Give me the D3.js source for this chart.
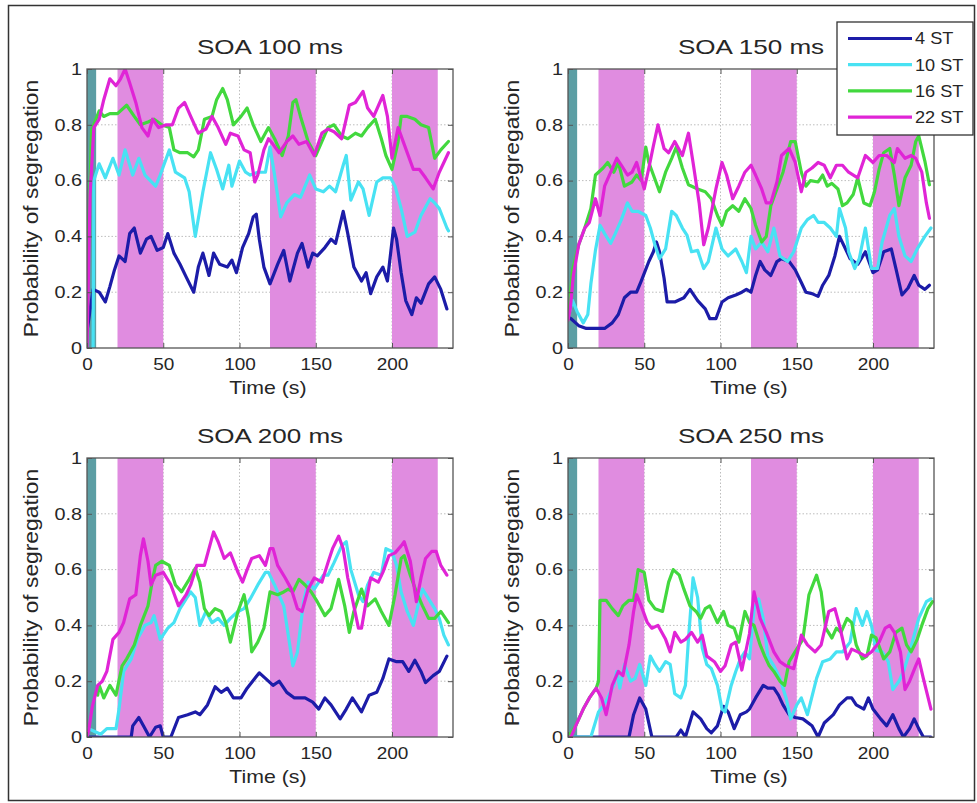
<!DOCTYPE html>
<html>
<head>
<meta charset="utf-8">
<script src="https://cdn.jsdelivr.net/npm/d3@7"></script>
<style>
  body { margin: 0; background: #fff; }
  text { font-family: "Liberation Sans", Arial, sans-serif; fill: #262626; }
</style>
</head>
<body>
<div id="chart"></div>
<script>

// values: [time (s), probability]

const panelTitles = ["SOA 100 ms", "SOA 150 ms", "SOA 200 ms", "SOA 250 ms"]
const seriesNames = ["4 ST", "10 ST", "16 ST", "22 ST"]
const xTicks = [0, 50, 100, 150, 200]
const yTicks = [0, 0.2, 0.4, 0.6, 0.8, 1]
const cueBand = [0, 6]
const stimBands = [[20, 50], [120, 150], [200, 230]]

const soa100_4 = [[0,.06],[4,.21],[8,.20],[12,.165],[15,.22],[18,.28],[21,.33],[25,.31],[28,.41],[31,.43],[35,.34],[39,.39],[42,.40],[46,.35],[50,.36],[53,.41],[57,.34],[61,.30],[65,.255],[70,.20],[73,.29],[76,.34],[80,.26],[83,.34],[87,.30],[92,.29],[95,.315],[98,.27],[102,.36],[106,.41],[109,.47],[111,.48],[113,.39],[116,.29],[120,.23],[125,.30],[129,.35],[133,.24],[138,.34],[141,.375],[145,.29],[148,.34],[151,.33],[156,.36],[160,.39],[163,.375],[168,.49],[171,.41],[175,.29],[180,.24],[183,.27],[186,.195],[190,.255],[194,.29],[197,.24],[201,.43],[203,.39],[206,.27],[209,.17],[213,.12],[216,.18],[219,.16],[224,.23],[228,.255],[232,.21],[236,.14]]
const soa100_10 = [[4,0],[4.5,.60],[8,.66],[12,.61],[17,.68],[21,.62],[25,.71],[30,.62],[34,.68],[38,.62],[45,.58],[48,.62],[54,.71],[58,.63],[64,.61],[67,.56],[71,.40],[76,.56],[81,.70],[85,.64],[89,.57],[93,.655],[95,.58],[100,.67],[104,.63],[107,.62],[112,.63],[117,.63],[120,.72],[123,.62],[127,.47],[131,.52],[136,.55],[140,.54],[146,.62],[150,.57],[155,.56],[159,.58],[163,.56],[168,.655],[170,.69],[173,.53],[178,.595],[181,.57],[185,.475],[190,.595],[194,.61],[199,.61],[202,.58],[206,.50],[210,.40],[215,.415],[219,.475],[225,.535],[228,.52],[231,.50],[236,.43],[237,.42]]
const soa100_16 = [[0.5,.3],[3,.78],[8,.85],[11,.83],[15,.84],[20,.84],[26,.87],[31,.83],[35,.80],[40,.81],[44,.82],[49,.80],[54,.79],[57,.71],[61,.70],[66,.70],[70,.685],[73,.71],[77,.82],[82,.83],[85,.89],[89,.93],[92,.89],[96,.80],[101,.83],[105,.86],[109,.80],[114,.74],[119,.79],[123,.75],[128,.69],[132,.76],[135,.88],[137,.89],[140,.83],[145,.74],[150,.69],[154,.74],[158,.79],[162,.80],[167,.76],[171,.75],[176,.77],[180,.76],[184,.79],[189,.82],[193,.75],[196,.69],[200,.64],[204,.74],[206,.83],[210,.83],[215,.82],[219,.80],[224,.79],[228,.68],[232,.71],[237,.74]]
const soa100_22 = [[0,0],[2,.55],[4.5,.79],[8,.82],[11,.89],[15,.965],[19,.94],[22,.965],[25,1.0],[28,.95],[32,.88],[36,.79],[40,.76],[43,.82],[47,.79],[52,.80],[56,.80],[60,.86],[64,.88],[68,.83],[73,.77],[78,.785],[82,.83],[86,.79],[91,.73],[94,.77],[99,.76],[103,.71],[107,.70],[110,.595],[112,.62],[116,.71],[119,.75],[122,.73],[126,.70],[131,.74],[135,.76],[139,.73],[144,.74],[149,.69],[154,.77],[158,.785],[162,.775],[167,.75],[172,.87],[176,.88],[181,.92],[184,.86],[188,.83],[194,.905],[197,.83],[200,.68],[204,.79],[208,.73],[214,.64],[218,.64],[222,.61],[227,.57],[231,.63],[237,.70]]

const soa150_4 = [[0,.11],[2,.105],[7,.08],[12,.07],[18,.07],[24,.07],[29,.09],[33,.12],[37,.18],[41,.20],[45,.20],[48,.24],[53,.31],[56,.345],[58,.38],[60,.345],[63,.25],[65,.165],[70,.165],[76,.18],[80,.21],[85,.17],[90,.14],[93,.105],[97,.105],[101,.165],[105,.18],[110,.19],[114,.20],[117,.21],[120,.20],[123,.26],[126,.31],[129,.28],[133,.26],[137,.31],[140,.32],[145,.31],[149,.28],[153,.235],[156,.20],[160,.195],[164,.185],[167,.225],[171,.26],[175,.33],[178,.40],[182,.355],[185,.32],[190,.30],[195,.345],[200,.27],[203,.28],[207,.345],[212,.355],[215,.285],[219,.19],[223,.215],[227,.26],[230,.225],[234,.21],[237,.225]]
const soa150_10 = [[0,.11],[3,.17],[6,.13],[10,.09],[13,.12],[15,.23],[18,.35],[21,.44],[24,.41],[28,.375],[31,.41],[35,.46],[39,.52],[42,.49],[46,.49],[51,.475],[54,.43],[57,.37],[60,.32],[64,.355],[68,.49],[71,.475],[75,.43],[78,.405],[81,.345],[85,.35],[89,.285],[92,.31],[97,.43],[101,.355],[105,.33],[110,.355],[114,.31],[117,.27],[120,.40],[123,.355],[127,.38],[131,.345],[135,.43],[139,.33],[144,.31],[148,.345],[153,.43],[157,.46],[161,.475],[164,.45],[168,.45],[172,.43],[176,.40],[178,.50],[182,.43],[184,.345],[188,.285],[191,.32],[195,.43],[199,.285],[203,.285],[206,.38],[211,.475],[214,.50],[217,.40],[221,.33],[225,.31],[229,.355],[234,.40],[238,.43]]
const soa150_16 = [[0,.1],[3,.28],[7,.37],[11,.43],[15,.5],[18,.62],[20,.63],[23,.645],[26,.665],[30,.63],[33,.665],[37,.58],[42,.595],[45,.62],[48,.6],[51,.72],[53,.665],[56,.62],[60,.56],[64,.63],[68,.68],[71,.72],[75,.645],[79,.585],[85,.57],[90,.56],[94,.535],[98,.475],[101,.44],[104,.49],[108,.51],[112,.49],[116,.535],[120,.50],[123,.44],[127,.38],[130,.40],[133,.51],[137,.57],[141,.63],[146,.74],[149,.74],[153,.63],[156,.58],[159,.60],[164,.595],[167,.62],[170,.58],[173,.59],[177,.57],[180,.51],[183,.52],[187,.55],[190,.61],[194,.52],[198,.51],[201,.56],[204,.64],[207,.70],[211,.715],[214,.62],[217,.51],[221,.61],[225,.655],[228,.74],[230,.76],[234,.67],[237,.585]]
const soa150_22 = [[0,.1],[1.5,.14],[3.5,.26],[7,.37],[11,.43],[14,.45],[18,.535],[21,.475],[24,.58],[28,.63],[32,.68],[35,.655],[39,.62],[42,.63],[45,.665],[50,.57],[53,.645],[56,.725],[59,.80],[63,.715],[66,.70],[70,.74],[75,.69],[79,.77],[82,.665],[86,.52],[89,.37],[92,.43],[97,.57],[101,.665],[104,.62],[108,.535],[112,.58],[116,.63],[120,.655],[123,.62],[127,.57],[130,.52],[133,.52],[137,.595],[140,.69],[145,.715],[149,.665],[153,.56],[156,.63],[160,.645],[164,.665],[168,.655],[172,.61],[176,.655],[180,.655],[184,.63],[190,.61],[195,.69],[200,.665],[204,.69],[209,.69],[214,.665],[216,.715],[221,.68],[225,.69],[228,.68],[232,.63],[235,.52],[237,.465]]

const soa200_4 = [[0,0],[29,0],[30,.04],[34,.07],[37,.04],[41,0],[45,.035],[48,.04],[50,0],[55,0],[60,.07],[66,.08],[71,.09],[74,.08],[79,.115],[84,.18],[88,.16],[92,.175],[96,.14],[101,.14],[105,.175],[110,.21],[113,.23],[117,.21],[122,.185],[126,.20],[131,.16],[136,.14],[143,.14],[148,.125],[152,.10],[156,.14],[160,.115],[166,.065],[170,.10],[174,.14],[180,.09],[185,.15],[190,.16],[194,.21],[198,.28],[203,.27],[207,.27],[211,.235],[215,.275],[219,.235],[222,.195],[227,.22],[231,.235],[236,.29]]
const soa200_10 = [[0,.02],[1,.03],[5,.02],[9,.01],[13,.03],[19,.03],[21,.10],[24,.235],[29,.28],[33,.35],[38,.40],[42,.41],[44,.435],[48,.35],[53,.39],[57,.41],[61,.46],[65,.495],[68,.52],[71,.50],[74,.40],[78,.45],[82,.41],[86,.425],[90,.40],[94,.425],[99,.45],[103,.46],[107,.495],[112,.545],[117,.59],[119,.59],[123,.545],[129,.47],[132,.365],[135,.255],[138,.305],[142,.485],[145,.555],[149,.53],[155,.58],[158,.58],[162,.625],[167,.685],[170,.70],[173,.60],[178,.51],[181,.485],[184,.545],[188,.59],[193,.58],[196,.675],[200,.665],[203,.615],[206,.52],[210,.45],[214,.40],[217,.47],[220,.53],[224,.495],[228,.46],[231,.425],[234,.365],[237,.33]]
const soa200_16 = [[7,.15],[8,.185],[11,.14],[15,.185],[19,.15],[23,.255],[26,.28],[31,.33],[35,.40],[40,.47],[43,.565],[45,.615],[49,.63],[54,.615],[58,.545],[62,.52],[67,.565],[71,.605],[74,.555],[77,.46],[80,.435],[84,.46],[88,.45],[91,.41],[94,.34],[99,.45],[103,.51],[106,.425],[108,.305],[112,.34],[116,.39],[120,.52],[125,.51],[129,.52],[132,.53],[135,.52],[139,.565],[143,.545],[147,.52],[151,.485],[156,.435],[160,.46],[165,.565],[169,.47],[172,.375],[175,.45],[180,.53],[184,.47],[189,.495],[193,.45],[198,.40],[202,.51],[206,.64],[208,.65],[212,.58],[216,.52],[220,.47],[224,.425],[228,.425],[232,.45],[237,.41]]
const soa200_22 = [[0,0],[1,.02],[3.5,.11],[7,.185],[10,.20],[13,.235],[17,.35],[21,.375],[24,.41],[28,.495],[32,.51],[35,.65],[37,.71],[40,.63],[42,.545],[45,.58],[50,.59],[55,.545],[60,.47],[65,.51],[68,.545],[72,.615],[77,.615],[80,.675],[83,.735],[86,.70],[90,.64],[94,.66],[99,.59],[102,.555],[105,.60],[108,.64],[113,.65],[117,.615],[120,.675],[122,.675],[125,.615],[130,.57],[134,.53],[138,.46],[141,.45],[145,.53],[149,.57],[154,.555],[158,.625],[161,.675],[165,.72],[168,.675],[171,.57],[174,.495],[178,.39],[180,.39],[183,.485],[186,.57],[191,.555],[194,.59],[198,.65],[202,.66],[206,.685],[208,.70],[212,.63],[216,.485],[219,.57],[222,.64],[226,.665],[229,.665],[232,.615],[236,.58]]

const soa250_4 = [[0,0],[40,0],[43,.08],[47,.14],[51,.10],[55,0],[71,0],[74,.025],[77,0],[82,.09],[87,.065],[91,.03],[94,.015],[98,.04],[102,.11],[105,.09],[109,.03],[113,.08],[117,.09],[119,.10],[123,.14],[128,.185],[131,.175],[135,.175],[138,.15],[141,.115],[145,.08],[149,.07],[154,.065],[160,.04],[164,0],[168,.05],[174,.08],[178,.115],[183,.14],[186,.14],[189,.115],[194,.10],[197,.14],[200,.10],[205,.065],[209,.04],[213,.08],[217,.03],[220,0],[224,.03],[227,.065],[230,.03],[233,0],[238,0]]
const soa250_10 = [[0,0],[15,0],[20,.09],[23,.11],[26,.14],[30,.185],[32,.235],[34,.175],[37,.26],[41,.20],[44,.21],[47,.26],[51,.185],[54,.29],[57,.26],[60,.235],[64,.27],[67,.26],[70,.155],[74,.14],[77,.185],[79,.35],[82,.57],[85,.50],[88,.32],[91,.26],[94,.245],[98,.185],[101,.10],[103,.09],[107,.185],[110,.235],[113,.28],[116,.305],[119,.28],[122,.46],[125,.495],[128,.425],[131,.29],[135,.255],[139,.21],[143,.14],[146,.065],[150,.115],[153,.14],[157,.08],[163,.21],[167,.27],[172,.28],[176,.305],[180,.305],[185,.34],[189,.46],[193,.40],[196,.45],[199,.40],[202,.31],[206,.305],[210,.27],[213,.17],[217,.20],[220,.235],[224,.305],[227,.365],[230,.425],[235,.485],[238,.495]]
const soa250_16 = [[0,0],[5,.04],[10,.10],[14,.14],[18.5,.175],[20,.2],[21,.49],[25,.49],[29,.46],[33,.435],[36,.47],[40,.49],[43,.49],[46,.60],[50,.59],[53,.49],[57,.46],[62,.45],[66,.555],[69,.60],[73,.58],[76,.53],[80,.47],[84,.45],[87,.425],[90,.46],[93,.47],[98,.41],[102,.45],[105,.40],[109,.39],[112,.34],[116,.45],[119,.41],[122,.40],[126,.33],[129,.29],[132,.255],[135,.235],[139,.20],[142,.185],[145,.27],[150,.315],[154,.35],[158,.51],[163,.58],[166,.52],[169,.39],[173,.355],[176,.39],[179,.375],[183,.425],[186,.41],[189,.33],[193,.28],[196,.29],[199,.365],[202,.355],[207,.28],[211,.305],[215,.375],[219,.39],[222,.33],[225,.305],[229,.35],[232,.40],[236,.46],[239,.485]]
const soa250_22 = [[0,0],[2,0],[5,.04],[10,.10],[14,.14],[18.5,.175],[22,.14],[25,.08],[29,.185],[33,.235],[36,.22],[40,.33],[43,.45],[45,.51],[48,.47],[52,.41],[55,.39],[59,.40],[64,.35],[67,.305],[70,.375],[74,.34],[77,.35],[81,.375],[85,.34],[88,.365],[91,.29],[96,.27],[100,.235],[103,.255],[107,.33],[110,.34],[114,.24],[119,.37],[122,.52],[126,.425],[130,.375],[135,.305],[139,.27],[143,.255],[148,.245],[151,.315],[153,.365],[157,.33],[162,.305],[166,.33],[171,.45],[175,.46],[178,.40],[183,.28],[186,.315],[190,.305],[195,.29],[199,.305],[204,.34],[208,.39],[211,.40],[214,.375],[218,.305],[221,.17],[224,.20],[228,.255],[230,.28],[233,.21],[238,.10]]

const panelSeries = [
  [soa100_4, soa100_10, soa100_16, soa100_22],
  [soa150_4, soa150_10, soa150_16, soa150_22],
  [soa200_4, soa200_10, soa200_16, soa200_22],
  [soa250_4, soa250_10, soa250_16, soa250_22]
]

const colors = ["#1c1ca8", "#48e2f3", "#42d83e", "#e024d6"]
const bandColor = "#e08ce0"
const cueColor = "#5c9ea4"
const frameColor = "#555"

const W = 977, H = 803
const plotW = 366, plotH = 279
const origins = [[87, 69], [568, 69], [87, 458], [568, 458]]

const svg = d3.select("#chart").append("svg")
  .attr("width", W)
  .attr("height", H)

svg.append("rect")
  .attr("width", W).attr("height", H)
  .attr("fill", "#fff")

svg.append("rect")
  .attr("x", 8.5).attr("y", 5.5)
  .attr("width", 966).attr("height", 795)
  .attr("fill", "none")
  .attr("stroke", "#333")
  .attr("stroke-width", 1.5)

// stretch text a little: the source figure was scaled wider than tall
var widen = function (sel, k) {
  sel.each(function () {
    var w = this.getComputedTextLength()
    d3.select(this)
      .attr("textLength", w * k)
      .attr("lengthAdjust", "spacingAndGlyphs")
  })
}

const x = d3.scaleLinear().domain([0, 240]).range([0, plotW])
const y = d3.scaleLinear().domain([0, 1]).range([plotH, 0])

const line = d3.line()
  .x(d => x(d[0]))
  .y(d => y(d[1]))

panelSeries.forEach(function (series, i) {
  var ox = origins[i][0], oy = origins[i][1]
  var g = svg.append("g").attr("transform", `translate(${ox},${oy})`)

  g.append("clipPath").attr("id", "clip" + i)
    .append("rect").attr("width", plotW).attr("height", plotH)

  // grid
  g.append("g")
    .selectAll("line.gx")
    .data(xTicks.filter(d => d > 0))
    .join("line")
    .attr("x1", d => x(d)).attr("x2", d => x(d))
    .attr("y1", 0).attr("y2", plotH)
    .attr("stroke", "#bdbdbd")
    .attr("stroke-dasharray", "1.5,2")
  g.append("g")
    .selectAll("line.gy")
    .data(yTicks.filter(d => d > 0 && d < 1))
    .join("line")
    .attr("x1", 0).attr("x2", plotW)
    .attr("y1", d => y(d)).attr("y2", d => y(d))
    .attr("stroke", "#bdbdbd")
    .attr("stroke-dasharray", "1.5,2")

  // stimulus bands
  g.append("g")
    .selectAll("rect")
    .data(stimBands)
    .join("rect")
    .attr("x", d => x(d[0]))
    .attr("width", d => x(d[1]) - x(d[0]))
    .attr("y", 0).attr("height", plotH)
    .attr("fill", bandColor)
  g.append("rect")
    .attr("x", x(cueBand[0]))
    .attr("width", x(cueBand[1]) - x(cueBand[0]))
    .attr("y", 0).attr("height", plotH)
    .attr("fill", cueColor)

  g.append("g")
    .attr("clip-path", `url(#clip${i})`)
    .selectAll("path")
    .data(series)
    .join("path")
    .attr("d", line)
    .attr("fill", "none")
    .attr("stroke", (d, j) => colors[j])
    .attr("stroke-width", 3.2)
    .attr("stroke-linejoin", "round")
    .attr("stroke-linecap", "round")

  // axes, ticks pointing inward
  var xb = g.append("g")
    .attr("transform", `translate(0,${plotH})`)
    .call(d3.axisBottom(x).tickValues(xTicks).tickSizeInner(-5).tickSizeOuter(0).tickPadding(10))
  var yl = g.append("g")
    .call(d3.axisLeft(y).tickValues(yTicks).tickFormat(d => String(d)).tickSizeInner(-5).tickSizeOuter(0).tickPadding(5))
  g.append("g")
    .attr("transform", `translate(${plotW},0)`)
    .call(d3.axisRight(y).tickValues(yTicks).tickFormat("").tickSizeInner(-5).tickSizeOuter(0))
  g.append("g")
    .call(d3.axisTop(x).tickValues(xTicks).tickFormat("").tickSizeInner(-5).tickSizeOuter(0))

  g.selectAll(".domain").remove()
  g.selectAll(".tick line").attr("stroke", frameColor)
  g.selectAll(".tick text")
    .attr("fill", "#2a2a2a")
    .style("font-size", "16.5px")
    .style("font-family", '"Liberation Sans", Arial, sans-serif')
  widen(xb.selectAll(".tick text"), 1.15)
  widen(yl.selectAll(".tick text"), 1.2)

  g.append("rect")
    .attr("width", plotW).attr("height", plotH)
    .attr("fill", "none")
    .attr("stroke", frameColor)
    .attr("stroke-width", 1.3)

  var title = g.append("text")
    .attr("x", plotW / 2).attr("y", -15)
    .attr("text-anchor", "middle")
    .style("font-size", "21px")
    .text(panelTitles[i])
  widen(title, 1.24)

  var xlab = g.append("text")
    .attr("x", plotW / 2 - 2).attr("y", plotH + 46)
    .attr("text-anchor", "middle")
    .style("font-size", "19px")
    .text("Time (s)")
  widen(xlab, 1.12)

  var ylab = g.append("text")
    .attr("transform", `translate(-49,${plotH / 2}) rotate(-90)`)
    .attr("text-anchor", "middle")
    .style("font-size", "20px")
    .text("Probability of segregation")
  widen(ylab, 1.14)
})

// legend
const legend = svg.append("g").attr("transform", "translate(837,22)")
legend.append("rect")
  .attr("width", 136).attr("height", 113)
  .attr("fill", "#fff")
  .attr("stroke", "#333")
  .attr("stroke-width", 1.3)

const rows = legend.selectAll("g.row")
  .data(seriesNames)
  .join("g")
  .attr("transform", (d, i) => `translate(0,${16.5 + i * 26.2})`)
rows.append("line")
  .attr("x1", 11).attr("x2", 75)
  .attr("stroke", (d, i) => colors[i])
  .attr("stroke-width", 3.2)
rows.append("text")
  .attr("x", 78).attr("dy", "0.36em")
  .style("font-size", "16.5px")
  .text(d => d)
  .call(widen, 1.1)

</script>
</body>
</html>
